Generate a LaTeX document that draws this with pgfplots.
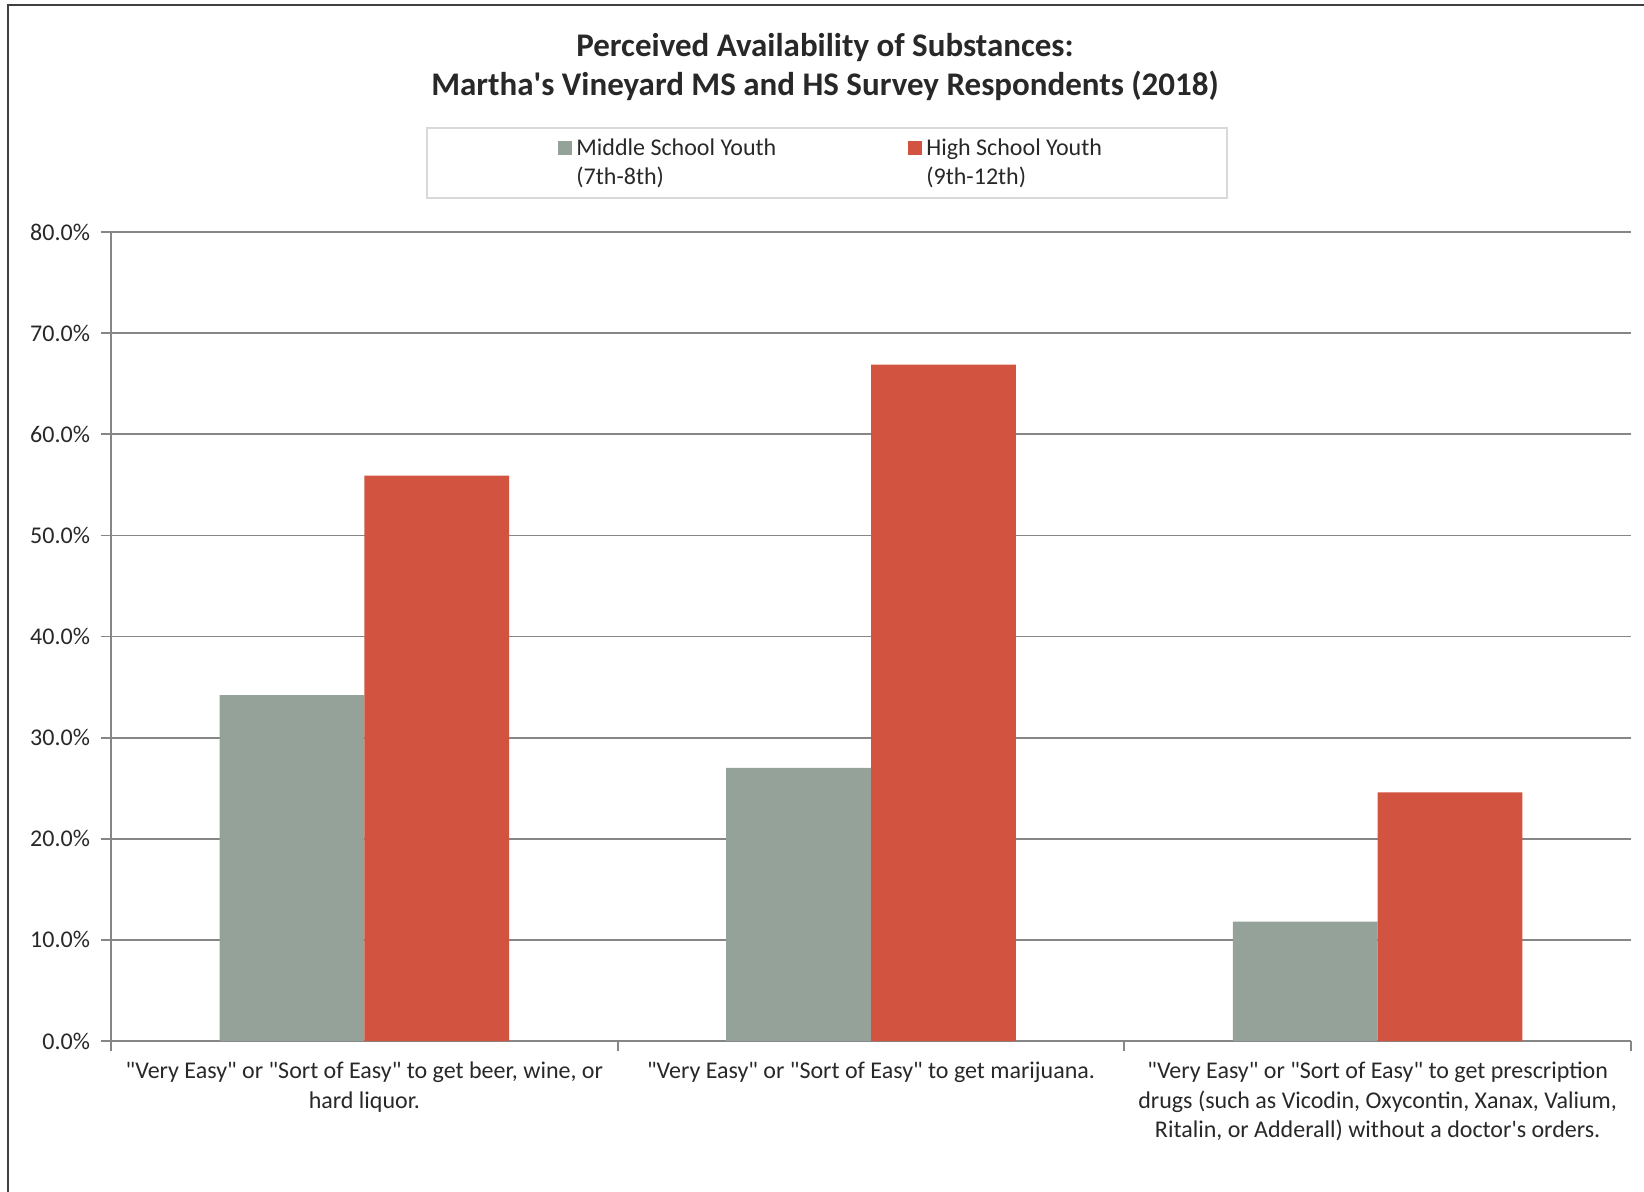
\documentclass[border=0pt]{standalone}
\usepackage{fontspec}
\setmainfont{Carlito}[Ligatures=TeXOff]
\usepackage{pgfplots}
\pgfplotsset{compat=1.18}
\definecolor{msgray}{RGB}{148,162,154}
\definecolor{hsred}{RGB}{210,83,64}
\definecolor{gridgray}{RGB}{134,134,134}
\definecolor{txt}{RGB}{40,40,40}
\begin{document}
\begin{tikzpicture}
\useasboundingbox (0pt,0pt) rectangle (822pt,-595.5pt);
\draw[line width=1pt, black!75] (4pt,-600pt) -- (4pt,-2.5pt) -- (830pt,-2.5pt);
\node[font=\fontsize{16.5}{19.5}\selectfont\bfseries, align=center, text=txt] at (412.5pt,-33.5pt) {Perceived Availability of Substances:\\Martha's Vineyard MS and HS Survey Respondents (2018)};
\draw[black!15, line width=0.6pt] (213.5pt,-64pt) rectangle (613.5pt,-99pt);
\begin{axis}[
  at={(55.5pt,-520.5pt)}, anchor=south west,
  scale only axis, width=760pt, height=404.5pt,
  ybar=0pt, bar width=72.4pt,
  xmin=-0.5, xmax=2.5, ymin=0, ymax=80,
  xtick={-0.5,0.5,1.5,2.5},
  x tick label as interval,
  xticklabels={{"Very Easy" or "Sort of Easy" to get beer, wine, or\\hard liquor.},
               {"Very Easy" or "Sort of Easy" to get marijuana.},
               {"Very Easy" or "Sort of Easy" to get prescription\\drugs (such as Vicodin, Oxycontin, Xanax, Valium,\\Ritalin, or Adderall) without a doctor's orders.},{}},
  x tick label style={align=center, font=\fontsize{12}{14.7}\selectfont, text=txt, yshift=-2pt},
  ytick={0,10,...,80},
  yticklabel={\pgfmathprintnumber[fixed,fixed zerofill,precision=1]{\tick}\%},
  y tick label style={font=\fontsize{12}{14}\selectfont, text=txt, xshift=-2pt},
  /pgf/number format/assume math mode=true,
  axis x line*=bottom, axis y line*=left,
  axis line style={gridgray, line width=0.9pt, -},
  x axis line style={line width=1.4pt},
  ymajorgrids, grid style={gridgray, line width=0.9pt},
  tick align=outside, major tick length=5pt,
  tick style={gridgray, line width=0.9pt},
  legend columns=2,
  legend style={at={(0.4745,1.1034)}, anchor=center, draw=none, fill=none,
    inner xsep=64pt, inner ysep=4pt,
    font=\fontsize{12}{14.5}\selectfont, text=txt,
    cells={anchor=base west},
    /tikz/every even column/.append style={column sep=64pt}},
  legend image code/.code={\fill[#1] (0pt,0.3pt) rectangle (7pt,7.3pt);},
]
\addplot[fill=msgray, draw=none] coordinates {(0,34.2) (1,27.0) (2,11.8)};
\addlegendentry{\vtop{\hbox{Middle School Youth}\hbox{(7th-8th)}}}
\addplot[fill=hsred, draw=none] coordinates {(0,55.9) (1,66.9) (2,24.6)};
\addlegendentry{\vtop{\hbox{High School Youth}\hbox{(9th-12th)}}}
\end{axis}
\end{tikzpicture}
\end{document}
